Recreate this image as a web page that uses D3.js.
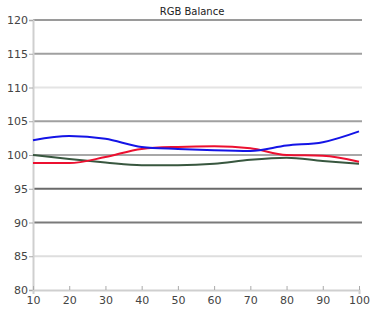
<!DOCTYPE html>
<html>
<head>
<meta charset="utf-8">
<script src="https://cdn.jsdelivr.net/npm/d3@7"></script>
<style>
body { margin: 0; background: #fff; }
svg { display: block; font-family: "DejaVu Sans", sans-serif; }
</style>
</head>
<body>
<svg width="384" height="317"></svg>
<script>
var svg = d3.select('svg');

// données
const steps = [10, 20, 30, 40, 50, 60, 70, 80, 90, 100];
const redValues = [98.8, 98.8, 99.7, 100.9, 101.2, 101.3, 101.0, 100.0, 99.9, 99.0];
const greenValues = [100.0, 99.4, 98.9, 98.5, 98.5, 98.7, 99.3, 99.6, 99.1, 98.7];
const blueValues = [102.2, 102.8, 102.4, 101.2, 100.9, 100.7, 100.6, 101.4, 101.9, 103.5];
const yTicks = [80, 85, 90, 95, 100, 105, 110, 115, 120];
const gridColors = {120: "#9a9a9a", 115: "#a0a0a0", 110: "#e4e4e4", 105: "#a0a0a0", 100: "#a8a8a8", 95: "#6a6a6a", 90: "#7a7a7a", 85: "#dedede"};

const series = [
	{ name: "Green", values: greenValues, color: "#38573f" },
	{ name: "Red", values: redValues, color: "#ec1030" },
	{ name: "Blue", values: blueValues, color: "#1414e6" }
];

const margin = {top: 20, right: 25, bottom: 27, left: 33};
const width = 384, height = 317;
const innerWidth = width - margin.left - margin.right;
const innerHeight = height - margin.top - margin.bottom;

const xScale = d3.scaleLinear().domain([10, 100]).range([0, innerWidth]);
const yScale = d3.scaleLinear().domain([80, 120]).range([innerHeight, 0]);

// titre
svg.append("text")
	.attr("x", 192)
	.attr("y", 15)
	.attr("text-anchor", "middle")
	.style("font-size", "10px")
	.style("fill", "#222")
	.text("RGB Balance");

const g = svg.append('g')
	.attr('transform', `translate(${margin.left}, ${margin.top})`);

// lignes de grille
g.selectAll('.grid').data(yTicks.filter(d => d > 80))
	.enter().append('line')
	.attr('x1', 0)
	.attr('x2', innerWidth + 3)
	.attr('y1', d => yScale(d))
	.attr('y2', d => yScale(d))
	.style('stroke', d => gridColors[d])
	.style('stroke-width', 2);

// axes
const yAxis = g.append('g').call(d3.axisLeft(yScale).tickValues(yTicks).tickSize(4).tickPadding(1));
const xAxis = g.append('g')
	.attr('transform', `translate(0,${innerHeight})`)
	.call(d3.axisBottom(xScale).tickValues(steps).tickSize(4).tickPadding(2));

[yAxis, xAxis].forEach(a => {
	a.select('.domain').style('stroke', '#cfcfcf').style('stroke-width', 2);
	a.selectAll('.tick line').style('stroke', '#aaa');
	a.selectAll('text').style('font-size', '11px').style('fill', '#444')
		.style('font-family', '"DejaVu Sans", sans-serif');
});
xAxis.selectAll('.tick line').attr('y2', -4);

// courbes
const line = d3.line()
	.x((d, i) => xScale(steps[i]))
	.y(d => yScale(d))
	.curve(d3.curveMonotoneX);

g.selectAll('.serie').data(series)
	.enter().append('path')
	.attr('d', d => line(d.values))
	.style('fill', 'none')
	.style('stroke', d => d.color)
	.style('stroke-width', 2);
</script>
</body>
</html>
